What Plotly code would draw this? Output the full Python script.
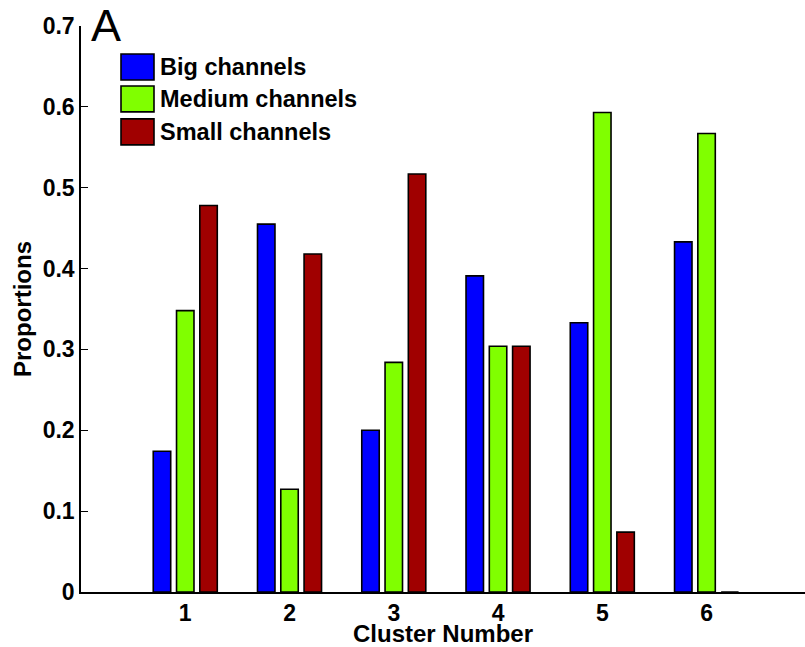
import plotly.graph_objects as go

# Proportion of channel sizes within each cluster
clusters = [1, 2, 3, 4, 5, 6]
big = [0.174, 0.455, 0.200, 0.391, 0.333, 0.433]
medium = [0.348, 0.127, 0.284, 0.304, 0.593, 0.567]
small = [0.478, 0.418, 0.517, 0.304, 0.074, 0.0]

series_names = ["Big channels", "Medium channels", "Small channels"]
series_colors = ["#0000FF", "#80FF00", "#A00000"]
y_ticks = [0, 0.1, 0.2, 0.3, 0.4, 0.5, 0.6, 0.7]
y_tick_text = ["0", "0.1", "0.2", "0.3", "0.4", "0.5", "0.6", "0.7"]

W, H = 805, 647
L, R, T, B = 81, 0, 26, 54.5
FONT = "Liberation Sans, Arial, Helvetica, sans-serif"
BOLD = dict(family=FONT, weight="bold", color="black")

fig = go.Figure()
for name, vals, col in zip(series_names, [big, medium, small], series_colors):
    fig.add_trace(go.Bar(
        x=clusters, y=vals, name=name,
        marker=dict(color=col, line=dict(color="black", width=1.6)),
        showlegend=False,
    ))

plot_w = W - L - R
plot_h = H - T - B
unit_px = 104.26


def px_to_paper(px, py):
    return (px - L) / plot_w, (H - B - py) / plot_h


# hand-built legend: large swatches with labels
shapes = []
annotations = []
box_tops = [54, 86, 119]
for name, col, top in zip(series_names, series_colors, box_tops):
    x0, y1 = px_to_paper(121, top)
    x1, y0 = px_to_paper(154, top + 26)
    shapes.append(dict(type="rect", xref="paper", yref="paper",
                       x0=x0, x1=x1, y0=y0, y1=y1,
                       fillcolor=col, line=dict(color="black", width=1.6)))
    tx, ty = px_to_paper(158, top + 13)
    annotations.append(dict(text=name, xref="paper", yref="paper", x=tx, y=ty,
                            xanchor="left", yanchor="middle", showarrow=False,
                            font=dict(BOLD, size=23.5)))

# panel letter
ax_, ay_ = px_to_paper(89, 25)
annotations.append(dict(text="A", xref="paper", yref="paper", x=ax_, y=ay_,
                        xanchor="left", yanchor="middle", showarrow=False,
                        font=dict(family=FONT, size=45, color="black")))

fig.update_layout(
    width=W, height=H,
    margin=dict(l=L, r=R, t=T, b=B, pad=0),
    paper_bgcolor="white", plot_bgcolor="white",
    barmode="group", bargap=0.33, bargroupgap=0.25,
    font=dict(family=FONT, size=22, color="black"),
    shapes=shapes, annotations=annotations,
    xaxis=dict(
        range=[0, plot_w / unit_px],
        tickmode="array", tickvals=clusters, ticktext=[str(c) for c in clusters],
        ticks="", showgrid=False, zeroline=False,
        showline=True, linecolor="black", linewidth=1.5,
        tickfont=dict(BOLD, size=23),
        title=dict(text="Cluster Number", font=dict(BOLD, size=24), standoff=2),
        automargin=False,
    ),
    yaxis=dict(
        range=[0, 0.7],
        tickmode="array", tickvals=y_ticks, ticktext=y_tick_text,
        ticks="inside", ticklen=7, tickwidth=1.2, tickcolor="black",
        showgrid=False, zeroline=False,
        showline=True, linecolor="black", linewidth=1.5,
        tickfont=dict(BOLD, size=23),
        title=dict(text="Proportions", font=dict(BOLD, size=24), standoff=4),
        automargin=False,
    ),
)

fig.write_html("out.html")
